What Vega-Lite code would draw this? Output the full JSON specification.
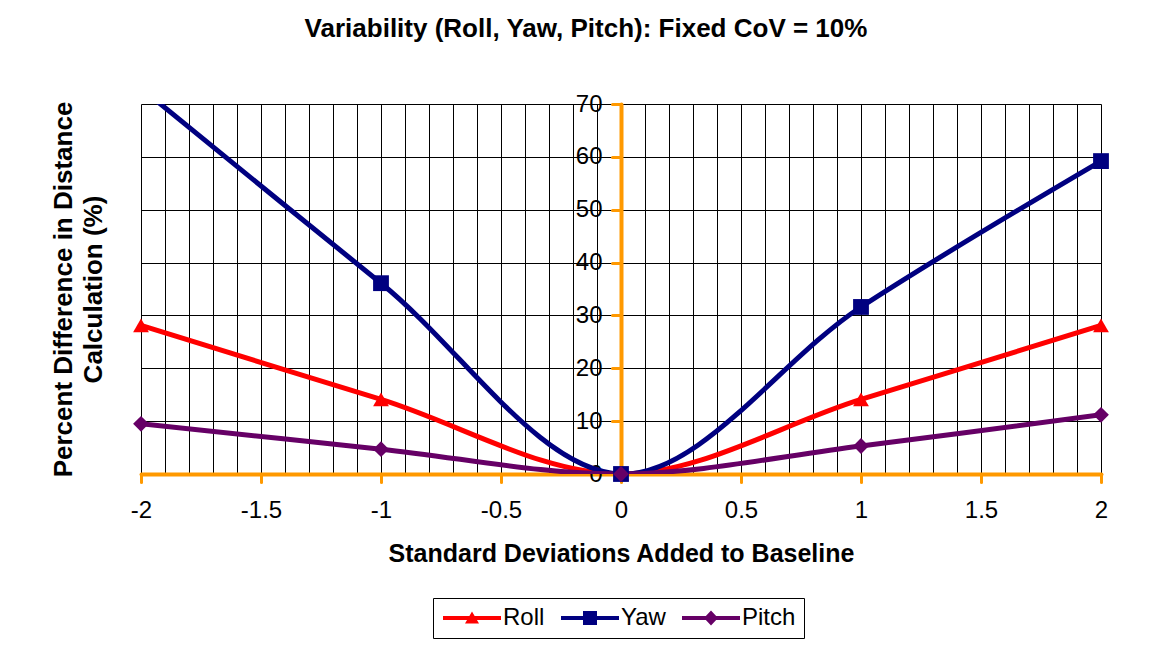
{
  "$schema": "https://vega.github.io/schema/vega-lite/v6.json",
  "width": 960,
  "height": 370,
  "autosize": {"type": "none"},
  "padding": {"left": 141, "top": 104, "right": 50, "bottom": 177},
  "background": "white",
  "config": {"font": "Liberation Sans", "view": {"stroke": null}},
  "title": {
    "text": "Variability (Roll, Yaw, Pitch): Fixed CoV = 10%",
    "fontSize": 26,
    "fontWeight": "bold",
    "font": "Liberation Sans",
    "color": "black",
    "anchor": "middle",
    "frame": "group",
    "dx": -35,
    "offset": 50
  },
  "data": {
    "values": [
      {"sd": -2, "pct": 28.1, "series": "Roll"},
      {"sd": -1, "pct": 14.1, "series": "Roll"},
      {"sd": 0, "pct": 0, "series": "Roll"},
      {"sd": 1, "pct": 14.1, "series": "Roll"},
      {"sd": 2, "pct": 28.1, "series": "Roll"},
      {"sd": -2, "pct": 73, "series": "Yaw"},
      {"sd": -1, "pct": 36.1, "series": "Yaw"},
      {"sd": 0, "pct": 0, "series": "Yaw"},
      {"sd": 1, "pct": 31.6, "series": "Yaw"},
      {"sd": 2, "pct": 59.2, "series": "Yaw"},
      {"sd": -2, "pct": 9.5, "series": "Pitch"},
      {"sd": -1, "pct": 4.7, "series": "Pitch"},
      {"sd": 0, "pct": 0, "series": "Pitch"},
      {"sd": 1, "pct": 5.3, "series": "Pitch"},
      {"sd": 2, "pct": 11.2, "series": "Pitch"}
    ]
  },
  "resolve": {"axis": {"x": "independent", "y": "independent"}},
  "layer": [
    {
      "transform": [{"filter": "datum.series === 'Roll'"}],
      "mark": {"type": "line", "interpolate": "catmull-rom", "strokeWidth": 5, "clip": true, "color": "#FF0000"},
      "encoding": {
        "x": {
          "field": "sd", "type": "quantitative",
          "scale": {"domain": [-2, 2], "nice": false, "zero": false},
          "axis": {
            "orient": "bottom",
            "values": [-2, -1.9, -1.8, -1.7, -1.6, -1.5, -1.4, -1.3, -1.2, -1.1, -1, -0.9, -0.8, -0.7, -0.6, -0.5, -0.4, -0.3, -0.2, -0.1, 0, 0.1, 0.2, 0.3, 0.4, 0.5, 0.6, 0.7, 0.8, 0.9, 1, 1.1, 1.2, 1.3, 1.4, 1.5, 1.6, 1.7, 1.8, 1.9, 2],
            "grid": true, "gridColor": "#000000", "gridWidth": 1, "gridOpacity": 1,
            "domain": false, "ticks": false, "labels": false, "title": null
          }
        },
        "y": {
          "field": "pct", "type": "quantitative",
          "scale": {"domain": [0, 70], "nice": false},
          "axis": {
            "orient": "left",
            "values": [0, 10, 20, 30, 40, 50, 60, 70],
            "grid": true, "gridColor": "#000000", "gridWidth": 1, "gridOpacity": 1,
            "domain": false, "ticks": false, "labels": false,
            "title": ["Percent Difference in Distance", "Calculation (%)"],
            "titleFontSize": 26, "titleFontWeight": "bold", "titleColor": "black",
            "titleFont": "Liberation Sans", "titlePadding": 35, "titleLineHeight": 30
          }
        }
      }
    },
    {
      "transform": [{"filter": "datum.series === 'Yaw'"}],
      "mark": {"type": "line", "interpolate": "catmull-rom", "strokeWidth": 5, "clip": true, "color": "#000080"},
      "encoding": {
        "x": {"field": "sd", "type": "quantitative", "axis": null},
        "y": {"field": "pct", "type": "quantitative", "axis": null}
      }
    },
    {
      "transform": [{"filter": "datum.series === 'Pitch'"}],
      "mark": {"type": "line", "interpolate": "catmull-rom", "strokeWidth": 5, "clip": true, "color": "#660066"},
      "encoding": {
        "x": {"field": "sd", "type": "quantitative", "axis": null},
        "y": {"field": "pct", "type": "quantitative", "axis": null}
      }
    },
    {
      "transform": [{"filter": "datum.series === 'Roll'"}],
      "mark": {"type": "point", "shape": "triangle-up", "filled": true, "size": 250, "opacity": 1, "color": "#FF0000"},
      "encoding": {
        "x": {
          "field": "sd", "type": "quantitative",
          "axis": {
            "orient": "bottom",
            "values": [-2, -1.5, -1, -0.5, 0, 0.5, 1, 1.5, 2],
            "labelExpr": "'' + datum.value",
            "grid": false,
            "domainColor": "#FF9900", "domainWidth": 4, "domainCap": "round",
            "tickColor": "#FF9900", "tickWidth": 3, "tickSize": 8, "tickCap": "round",
            "labelFontSize": 24, "labelColor": "black", "labelFont": "Liberation Sans",
            "labelPadding": 16, "labelFlush": false, "labelOverlap": false,
            "title": "Standard Deviations Added to Baseline",
            "titleFontSize": 25, "titleFontWeight": "bold", "titleColor": "black",
            "titleFont": "Liberation Sans", "titlePadding": 19
          }
        },
        "y": {
          "field": "pct", "type": "quantitative",
          "axis": {
            "orient": "left", "offset": -480,
            "values": [0, 10, 20, 30, 40, 50, 60, 70],
            "grid": false,
            "domainColor": "#FF9900", "domainWidth": 4, "domainCap": "round",
            "tickColor": "#FF9900", "tickWidth": 3, "tickSize": 9, "tickCap": "round",
            "labelFontSize": 24, "labelColor": "black", "labelFont": "Liberation Sans",
            "labelPadding": 10, "labelFlush": false, "labelOverlap": false,
            "title": null
          }
        }
      }
    },
    {
      "transform": [{"filter": "datum.series === 'Yaw' && datum.pct <= 70"}],
      "mark": {"type": "point", "shape": "square", "filled": true, "size": 250, "opacity": 1, "color": "#000080"},
      "encoding": {
        "x": {"field": "sd", "type": "quantitative", "axis": null},
        "y": {"field": "pct", "type": "quantitative", "axis": null}
      }
    },
    {
      "transform": [{"filter": "datum.series === 'Pitch'"}],
      "mark": {"type": "point", "shape": "diamond", "filled": true, "size": 250, "opacity": 1, "color": "#660066"},
      "encoding": {
        "x": {"field": "sd", "type": "quantitative", "axis": null},
        "y": {"field": "pct", "type": "quantitative", "axis": null}
      }
    },
    {
      "transform": [{"filter": "datum.pct <= 70"}],
      "mark": {"type": "point", "filled": true, "opacity": 0},
      "encoding": {
        "x": {"field": "sd", "type": "quantitative", "axis": null},
        "y": {"field": "pct", "type": "quantitative", "axis": null},
        "color": {
          "field": "series", "type": "nominal",
          "scale": {"domain": ["Roll", "Yaw", "Pitch"], "range": ["#FF0000", "#000080", "#660066"]},
          "legend": {
            "title": null, "orient": "none", "legendX": 292, "legendY": 494,
            "direction": "horizontal", "strokeColor": "black", "fillColor": "white",
            "padding": 8, "columnPadding": 14,
            "symbolSize": 400, "symbolOffset": 19, "labelOffset": 19,
            "symbolStrokeWidth": 0, "symbolOpacity": 1,
            "labelFontSize": 24, "labelColor": "black", "labelFont": "Liberation Sans", "labelLimit": 0
          }
        },
        "shape": {
          "field": "series", "type": "nominal",
          "scale": {
            "domain": ["Roll", "Yaw", "Pitch"],
            "range": [
              "M-2.9,-0.2L2.9,-0.2L2.9,0.2L-2.9,0.2Z M-0.7,0.55L0,-0.65L0.7,0.55Z",
              "M-2.9,-0.2L2.9,-0.2L2.9,0.2L-2.9,0.2Z M-0.7,-0.7L0.7,-0.7L0.7,0.7L-0.7,0.7Z",
              "M-2.9,-0.2L2.9,-0.2L2.9,0.2L-2.9,0.2Z M0,-0.75L0.7,0L0,0.75L-0.7,0Z"
            ]
          },
          "legend": {
            "title": null, "orient": "none", "legendX": 292, "legendY": 494,
            "direction": "horizontal", "strokeColor": "black", "fillColor": "white",
            "padding": 8, "columnPadding": 14,
            "symbolSize": 400, "symbolOffset": 19, "labelOffset": 19,
            "symbolStrokeWidth": 0, "symbolOpacity": 1,
            "labelFontSize": 24, "labelColor": "black", "labelFont": "Liberation Sans", "labelLimit": 0
          }
        }
      }
    }
  ]
}
